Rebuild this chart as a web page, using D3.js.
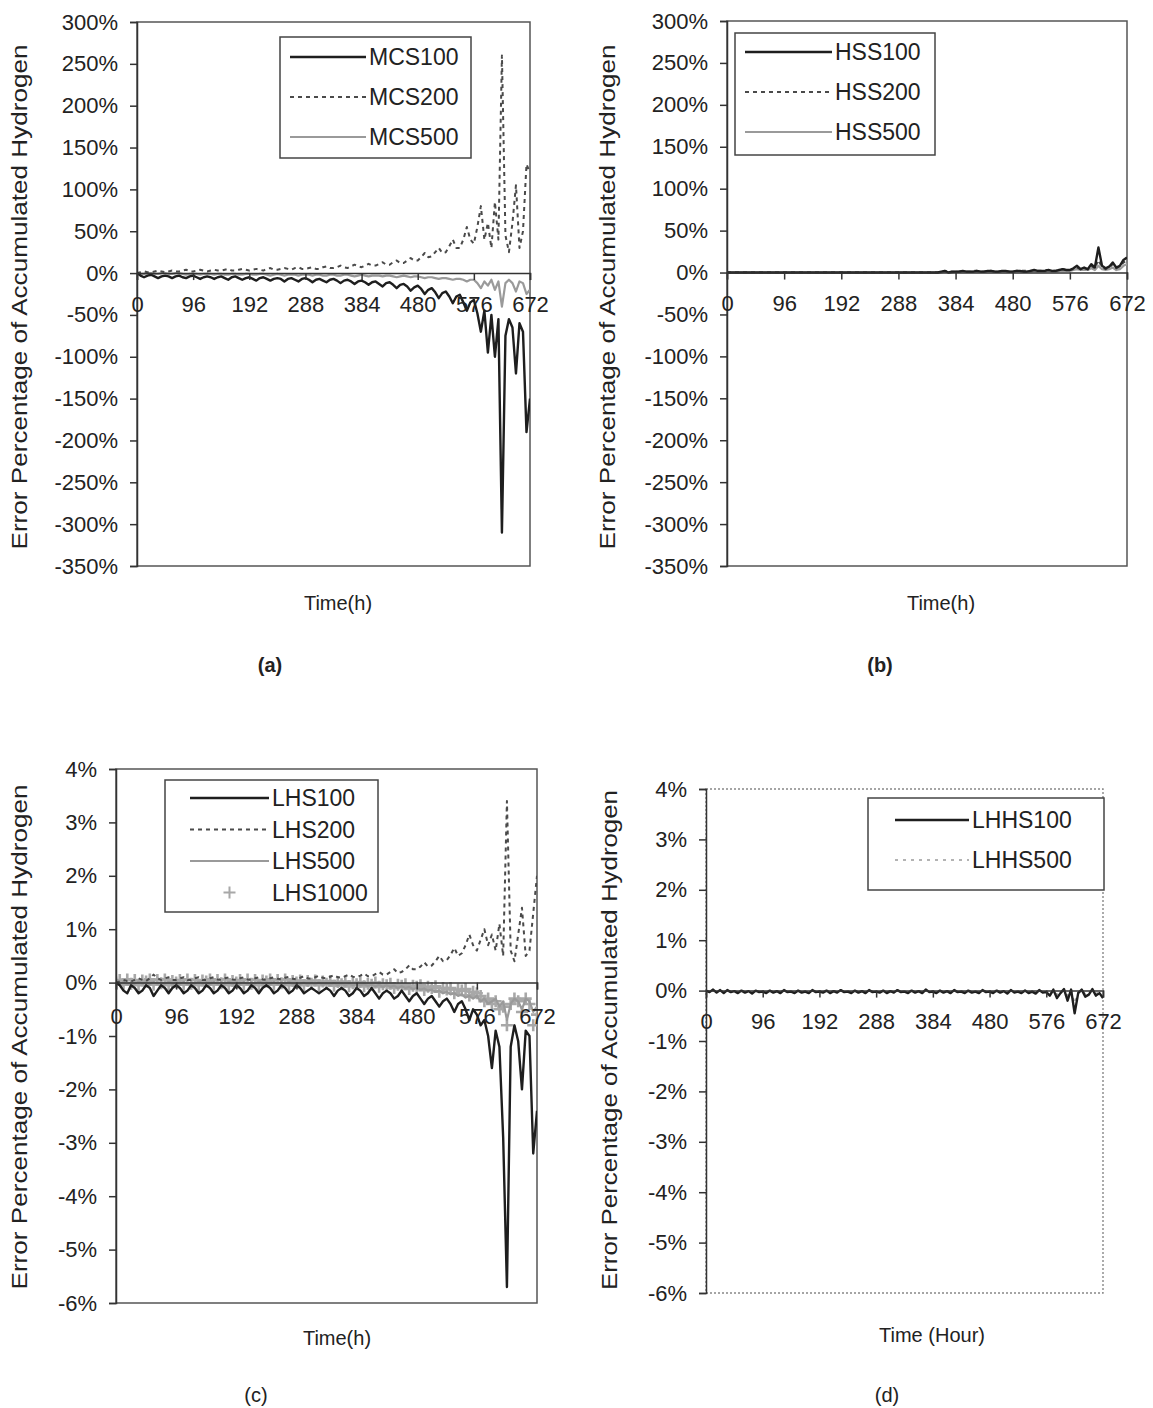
<!DOCTYPE html>
<html><head><meta charset="utf-8">
<script src="https://cdn.jsdelivr.net/npm/d3@7/dist/d3.min.js"></script>
<style>
body{margin:0;background:#fff}
text{font-family:"Liberation Sans",Arial,sans-serif;fill:#222}
</style>
</head><body>
<svg id="chart" width="1153" height="1408"></svg>
<script>
// ---------------- DATA ----------------
const hours = [0,6,12,18,24,30,36,42,48,54,60,66,72,78,84,90,
96,102,108,114,120,126,132,138,144,150,156,162,168,174,180,186,
192,198,204,210,216,222,228,234,240,246,252,258,264,270,276,282,
288,294,300,306,312,318,324,330,336,342,348,354,360,366,372,378,
384,390,396,402,408,414,420,426,432,438,444,450,456,462,468,474,
480,486,492,498,504,510,516,522,528,534,540,546,552,558,564,570,
576,582,588,594,600,606,612,618,624,630,636,642,648,654,660,666,672];
const xTicks = [0,96,192,288,384,480,576,672];
const yTicksAB = [300,250,200,150,100,50,0,-50,-100,-150,-200,-250,-300,-350];
const yTicksCD = [4,3,2,1,0,-1,-2,-3,-4,-5,-6];

// Panel (a) — MCS
const MCS100 = [0,-3,-5,-3,-2,-4,-6,-4,-3,-4,-6,-4,-3,-5,-6,-4,
-3,-5,-7,-5,-4,-5,-7,-5,-4,-6,-8,-5,-4,-6,-8,-6,
-5,-7,-9,-6,-5,-7,-9,-7,-6,-7,-10,-7,-6,-8,-10,-7,
-6,-8,-11,-8,-7,-9,-11,-8,-7,-9,-12,-9,-8,-10,-13,-10,
-9,-11,-14,-11,-10,-13,-16,-12,-11,-14,-18,-14,-13,-16,-21,-17,
-15,-19,-25,-20,-18,-23,-30,-24,-22,-28,-36,-28,-26,-35,-45,-35,
-32,-48,-70,-45,-95,-50,-100,-55,-310,-75,-55,-65,-120,-60,-70,-190,-150];
const MCS200 = [0,1,2,1,1,2,3,2,1,2,3,2,2,3,4,2,
2,3,4,3,2,3,4,3,3,4,5,3,3,4,5,4,
3,4,5,4,3,5,6,4,4,5,6,5,4,6,7,5,
5,6,7,5,5,7,8,6,6,7,9,7,6,8,10,8,
7,9,11,9,9,11,13,10,10,13,15,12,12,15,18,15,
15,19,24,19,20,25,30,24,25,32,40,30,30,40,55,40,
35,55,80,40,60,30,85,40,260,45,25,60,105,30,50,130,120];
const MCS500 = [0,-1,-1,0,0,-1,-1,0,0,-1,-1,0,0,-1,-2,-1,
-1,-1,-2,-1,-1,-1,-2,-1,-1,-2,-2,-1,-1,-2,-2,-1,
-1,-2,-2,-1,-1,-2,-3,-2,-1,-2,-3,-2,-2,-2,-3,-2,
-2,-2,-3,-2,-2,-3,-3,-2,-2,-3,-3,-2,-2,-3,-4,-3,
-2,-3,-4,-3,-3,-3,-4,-3,-3,-4,-5,-4,-3,-4,-5,-4,
-4,-5,-6,-5,-5,-6,-7,-6,-6,-7,-8,-7,-7,-8,-10,-8,
-8,-12,-18,-10,-15,-8,-20,-10,-40,-12,-8,-12,-22,-10,-12,-25,-20];

// Panel (b) — HSS
const HSS100 = [0,0,0,0,0,0,0,0,0,0,0,0,0,0,0,0,
0,0,0,0,0,0,0,0,0,0,0,0,0,0,0,0,
0,0,0,0,0,0,0,0,0,0,0,0,0,0,0,0,
0,0,0,0,0,0,0,0,0,0,0,0,1,2,0,1,
1,1,2,1,1,1,2,1,1,2,2,1,1,2,2,1,
1,2,2,1,1,2,3,2,2,2,3,2,2,3,4,3,
3,5,8,4,6,4,10,6,30,8,5,7,12,6,8,15,18];
const HSS200 = [0,0,0,0,0,0,0,0,0,0,0,0,0,0,0,0,
0,0,0,0,0,0,0,0,0,0,0,0,0,0,0,0,
0,0,0,0,0,0,0,0,0,0,0,0,0,0,0,0,
0,0,0,0,0,0,0,0,0,0,0,0,1,2,1,1,
1,1,2,1,1,2,2,1,1,2,2,1,1,2,2,1,
1,2,2,2,2,2,3,2,2,3,3,2,2,3,4,3,
3,4,6,4,5,4,8,5,15,6,4,6,10,5,7,12,14];
const HSS500 = [0,0,0,0,0,0,0,0,0,0,0,0,0,0,0,0,
0,0,0,0,0,0,0,0,0,0,0,0,0,0,0,0,
0,0,0,0,0,0,0,0,0,0,0,0,0,0,0,0,
0,0,0,0,0,0,0,0,0,0,0,0,0,1,0,0,
1,1,1,1,1,1,1,1,1,1,1,1,1,1,1,1,
1,1,1,1,1,1,2,1,1,1,2,1,1,2,2,2,
2,3,4,3,3,3,5,3,8,4,3,4,6,3,4,8,10];

// Panel (c) — LHS
const LHS100 = [0,-0.05,-0.15,-0.2,-0.05,-0.1,-0.2,-0.15,-0.05,-0.1,-0.25,-0.15,-0.05,-0.1,-0.2,-0.1,
-0.05,-0.1,-0.2,-0.15,-0.05,-0.1,-0.2,-0.15,-0.05,-0.1,-0.2,-0.15,-0.05,-0.1,-0.2,-0.15,
-0.05,-0.1,-0.2,-0.15,-0.05,-0.1,-0.2,-0.1,-0.05,-0.1,-0.2,-0.15,-0.05,-0.1,-0.2,-0.15,
-0.05,-0.1,-0.2,-0.15,-0.1,-0.15,-0.2,-0.15,-0.1,-0.15,-0.25,-0.15,-0.1,-0.15,-0.25,-0.2,
-0.1,-0.15,-0.25,-0.2,-0.1,-0.2,-0.3,-0.2,-0.15,-0.2,-0.3,-0.25,-0.15,-0.25,-0.35,-0.25,
-0.2,-0.3,-0.4,-0.3,-0.25,-0.35,-0.45,-0.35,-0.3,-0.4,-0.55,-0.4,-0.35,-0.5,-0.7,-0.5,
-0.6,-0.8,-0.7,-1.0,-1.6,-0.9,-1.2,-2.9,-5.7,-1.2,-0.8,-1.1,-2.0,-0.9,-1.0,-3.2,-2.4];
const LHS200 = [0,0.02,0.05,0.03,0.02,0.05,0.08,0.05,0.03,0.08,0.15,0.08,0.05,0.08,0.1,0.05,
0.05,0.08,0.1,0.05,0.05,0.08,0.1,0.05,0.05,0.08,0.1,0.06,0.05,0.08,0.1,0.06,
0.05,0.08,0.1,0.06,0.05,0.08,0.1,0.06,0.05,0.08,0.1,0.07,0.06,0.09,0.11,0.07,
0.06,0.09,0.12,0.08,0.07,0.1,0.13,0.09,0.08,0.11,0.14,0.1,0.09,0.12,0.15,0.11,
0.1,0.13,0.17,0.12,0.12,0.16,0.2,0.15,0.15,0.2,0.25,0.18,0.2,0.25,0.32,0.25,
0.25,0.3,0.38,0.3,0.32,0.4,0.5,0.4,0.42,0.52,0.65,0.5,0.55,0.7,0.9,0.7,
0.6,0.8,1.0,0.7,0.9,0.6,1.1,0.5,3.4,0.6,0.4,0.9,1.4,0.5,0.6,1.3,2.0];
const LHS500 = [0,-0.02,0.01,-0.03,0,-0.02,0.02,-0.02,0,-0.03,0.01,-0.02,0,-0.02,0.01,-0.03,
0,-0.02,0.01,-0.03,0,-0.02,0.02,-0.02,0,-0.03,0.01,-0.02,0,-0.02,0.01,-0.03,
0,-0.02,0.01,-0.03,0,-0.02,0.02,-0.02,0,-0.03,0.01,-0.02,0,-0.02,0.01,-0.03,
-0.01,-0.03,0,-0.04,-0.01,-0.03,0,-0.04,-0.02,-0.04,-0.01,-0.05,-0.02,-0.05,-0.02,-0.05,
-0.03,-0.05,-0.03,-0.06,-0.04,-0.07,-0.04,-0.08,-0.05,-0.08,-0.06,-0.1,-0.07,-0.1,-0.08,-0.12,
-0.1,-0.13,-0.11,-0.15,-0.13,-0.17,-0.15,-0.2,-0.17,-0.22,-0.2,-0.25,-0.22,-0.28,-0.25,-0.3,
-0.25,-0.35,-0.3,-0.4,-0.35,-0.3,-0.45,-0.35,-0.7,-0.4,-0.3,-0.35,-0.5,-0.3,-0.35,-0.55,-0.45];
const LHS1000 = [0,0.05,-0.04,0.06,-0.02,0.05,-0.05,0.04,0.02,0.06,-0.04,0.05,-0.01,0.06,-0.05,0.03,
0,0.05,-0.04,0.06,-0.02,0.05,-0.05,0.04,0.02,0.06,-0.04,0.05,-0.01,0.06,-0.05,0.03,
0,0.05,-0.04,0.06,-0.02,0.05,-0.05,0.04,0.02,0.06,-0.04,0.05,-0.01,0.06,-0.05,0.03,
0,0.04,-0.05,0.03,-0.02,0.04,-0.05,0.02,-0.02,0.03,-0.06,0.01,-0.03,0.02,-0.07,-0.01,
-0.03,0.01,-0.07,-0.02,-0.04,0,-0.08,-0.03,-0.05,-0.02,-0.1,-0.04,-0.06,-0.03,-0.12,-0.06,
-0.08,-0.05,-0.14,-0.08,-0.1,-0.07,-0.17,-0.1,-0.13,-0.1,-0.2,-0.13,-0.15,-0.12,-0.24,-0.17,
-0.2,-0.25,-0.35,-0.3,-0.4,-0.35,-0.5,-0.45,-0.8,-0.4,-0.3,-0.35,-0.55,-0.3,-0.4,-0.8,-0.6];

// Panel (d) — LHHS
const LHHS100 = [0,-0.03,0.02,-0.04,0.01,-0.05,0.01,-0.03,-0.01,-0.05,0,-0.04,-0.01,-0.06,0,-0.03,
-0.02,-0.05,0,-0.04,-0.01,-0.05,0.01,-0.03,-0.02,-0.05,0,-0.04,-0.02,-0.05,0.01,-0.03,
-0.02,-0.04,0,-0.05,-0.01,-0.04,0.01,-0.03,-0.02,-0.05,0,-0.04,-0.01,-0.05,0.01,-0.03,
-0.02,-0.04,0,-0.05,-0.01,-0.04,0.01,-0.03,-0.02,-0.05,0,-0.04,-0.01,-0.05,0.02,-0.03,
-0.02,-0.05,0,-0.04,-0.01,-0.05,0.01,-0.03,-0.02,-0.05,0,-0.04,-0.02,-0.05,0.01,-0.03,
-0.02,-0.05,0,-0.04,-0.01,-0.06,0.01,-0.04,-0.02,-0.05,0,-0.05,-0.02,-0.06,0.01,-0.04,
-0.03,-0.1,0.02,-0.15,-0.05,0.03,-0.2,0.02,-0.45,-0.05,0.02,-0.12,-0.08,0.03,-0.1,-0.05,-0.15];
const LHHS500 = [0,-0.02,0.01,-0.03,0,-0.03,0.01,-0.02,-0.01,-0.03,0,-0.03,-0.01,-0.04,0,-0.02,
-0.01,-0.03,0,-0.03,-0.01,-0.03,0.01,-0.02,-0.01,-0.03,0,-0.03,-0.01,-0.03,0,-0.02,
-0.01,-0.03,0,-0.03,-0.01,-0.03,0.01,-0.02,-0.01,-0.03,0,-0.03,-0.01,-0.03,0,-0.02,
-0.01,-0.03,0,-0.03,-0.01,-0.03,0.01,-0.02,-0.01,-0.03,0,-0.03,-0.01,-0.03,0,-0.02,
-0.01,-0.03,0,-0.03,-0.01,-0.03,0.01,-0.02,-0.01,-0.03,0,-0.03,-0.01,-0.03,0,-0.02,
-0.01,-0.03,0,-0.03,-0.01,-0.04,0,-0.03,-0.01,-0.04,0,-0.03,-0.02,-0.04,0,-0.03,
-0.02,-0.06,0.01,-0.08,-0.03,0.02,-0.1,0.01,-0.25,-0.03,0.01,-0.07,-0.05,0.02,-0.06,-0.03,-0.1];

const yTitle = "Error Percentage of Accumulated Hydrogen";

// ---------------- STYLES ----------------
const ST = {
  black:  {stroke:"#1e1e1e", width:2.4, dash:null},
  dashed: {stroke:"#4a4a4a", width:2, dash:"4,4"},
  grey:   {stroke:"#9a9a9a", width:2.2, dash:null},
  dotted: {stroke:"#9a9a9a", width:1.6, dash:"3,5"}
};
const FONT = '"Liberation Sans",Arial,sans-serif';

const svg = d3.select("#chart");
let clipId = 0;

function panel(cfg){
  const x = d3.scaleLinear().domain([0,672]).range([cfg.left, cfg.right]);
  const y = d3.scaleLinear().domain(cfg.yDomain).range([cfg.bottom, cfg.top]);
  const g = svg.append("g");
  const id = "clip" + (clipId++);
  g.append("clipPath").attr("id", id).append("rect")
    .attr("x", cfg.left).attr("y", cfg.top)
    .attr("width", cfg.right - cfg.left).attr("height", cfg.bottom - cfg.top);

  // frame
  g.append("rect").attr("x", cfg.left).attr("y", cfg.top)
    .attr("width", cfg.right - cfg.left).attr("height", cfg.bottom - cfg.top)
    .attr("fill", "none").attr("stroke", cfg.frameDotted ? "#888" : "#555")
    .attr("stroke-width", cfg.frameDotted ? 1.4 : 1.5)
    .attr("stroke-dasharray", cfg.frameDotted ? "2,2" : null);

  // series
  const data = g.append("g").attr("clip-path", `url(#${id})`);
  cfg.series.forEach(s => {
    if (s.marker) {
      data.append("g").selectAll("path").data(s.values).join("path")
        .attr("d", "M-6,0H6M0,-6V6")
        .attr("transform", (d,i) => `translate(${x(hours[i])},${y(d)})`)
        .attr("stroke", "#a8a8a8").attr("stroke-width", 2.6).attr("fill", "none");
    } else {
      const st = ST[s.style];
      const line = d3.line().x((d,i) => x(hours[i])).y(d => y(d));
      data.append("path").datum(s.values).attr("d", line)
        .attr("fill", "none").attr("stroke", st.stroke)
        .attr("stroke-width", st.width).attr("stroke-dasharray", st.dash)
        .attr("stroke-linejoin", "round");
    }
  });

  // y axis
  const ya = g.append("g").attr("transform", `translate(${cfg.left},0)`)
    .call(d3.axisLeft(y).tickValues(cfg.yTicks).tickFormat(d => d + "%").tickSize(7).tickPadding(12));
  ya.selectAll("path,line").attr("stroke", "#333").attr("stroke-width", 1.5);
  ya.selectAll("text").attr("font-size", cfg.tickFont).attr("fill", "#222").attr("font-family", FONT);

  // x axis at zero
  const xa = g.append("g").attr("transform", `translate(0,${y(0)})`)
    .call(d3.axisBottom(x).tickValues(xTicks).tickFormat(d3.format("d")).tickSize(7).tickPadding(cfg.xPad));
  xa.select(".domain").attr("stroke", "#333").attr("stroke-width", 1.5);
  xa.selectAll("line").attr("stroke", "#333").attr("stroke-width", 1.5);
  xa.selectAll("text").attr("font-size", cfg.tickFont).attr("fill", "#222").attr("font-family", FONT);

  // legend
  const L = cfg.legend;
  g.append("rect").attr("x", L.x).attr("y", L.y).attr("width", L.w).attr("height", L.h)
    .attr("fill", "#fff").attr("stroke", "#444").attr("stroke-width", 1.5);
  L.rows.forEach((r, i) => {
    const yy = L.y + L.first + i * L.step;
    if (r.marker) {
      g.append("path").attr("d", "M-6,0H6M0,-6V6")
        .attr("transform", `translate(${(L.lx1 + L.lx2)/2},${yy})`)
        .attr("stroke", "#a8a8a8").attr("stroke-width", 2);
    } else {
      const st = ST[r.style];
      g.append("line").attr("x1", L.lx1).attr("x2", L.lx2).attr("y1", yy).attr("y2", yy)
        .attr("stroke", st.stroke).attr("stroke-width", st.width).attr("stroke-dasharray", st.dash);
    }
    g.append("text").attr("x", L.lx2 + 3).attr("y", yy).attr("dy", "0.35em")
      .attr("font-size", L.font).text(r.name);
  });

  // titles
  g.append("text").attr("transform", `translate(${cfg.yTitleX},${cfg.yTitleY}) rotate(-90)`)
    .attr("text-anchor", "middle").attr("font-size", 22)
    .attr("textLength", cfg.yTitleLen).attr("lengthAdjust", "spacingAndGlyphs").text(yTitle);
  g.append("text").attr("x", cfg.xTitleX).attr("y", cfg.xTitleY).attr("text-anchor", "middle")
    .attr("dy", "0.35em").attr("font-size", 20).text(cfg.xTitle);
  g.append("text").attr("x", cfg.letterX).attr("y", cfg.letterY).attr("text-anchor", "middle")
    .attr("dy", "0.35em").attr("font-size", 20).attr("font-weight", cfg.letterBold ? "bold" : "normal")
    .text(cfg.letter);
}

panel({left:137, right:530, top:22, bottom:566, yDomain:[-350,300], yTicks:yTicksAB,
  tickFont:22, xPad:16,
  series:[{values:MCS500, style:"grey"},{values:MCS200, style:"dashed"},{values:MCS100, style:"black"}],
  legend:{x:280, y:37, w:191, h:121, first:20, step:40, lx1:290, lx2:366, font:23,
    rows:[{name:"MCS100", style:"black"},{name:"MCS200", style:"dashed"},{name:"MCS500", style:"grey"}]},
  yTitleX:27, yTitleY:297, yTitleLen:505, xTitle:"Time(h)", xTitleX:338, xTitleY:603,
  letter:"(a)", letterX:270, letterY:665, letterBold:true});

panel({left:727, right:1127, top:21, bottom:566, yDomain:[-350,300], yTicks:yTicksAB,
  tickFont:22, xPad:16,
  series:[{values:HSS500, style:"grey"},{values:HSS200, style:"dashed"},{values:HSS100, style:"black"}],
  legend:{x:735, y:33, w:200, h:122, first:19, step:40, lx1:745, lx2:832, font:23,
    rows:[{name:"HSS100", style:"black"},{name:"HSS200", style:"dashed"},{name:"HSS500", style:"grey"}]},
  yTitleX:615, yTitleY:297, yTitleLen:505, xTitle:"Time(h)", xTitleX:941, xTitleY:603,
  letter:"(b)", letterX:880, letterY:665, letterBold:true});

panel({left:116, right:537, top:769, bottom:1303, yDomain:[-6,4], yTicks:yTicksCD,
  tickFont:22, xPad:19,
  series:[{values:LHS1000, marker:true},{values:LHS500, style:"grey"},{values:LHS200, style:"dashed"},{values:LHS100, style:"black"}],
  legend:{x:165, y:780, w:213, h:132, first:18, step:31.5, lx1:190, lx2:269, font:23,
    rows:[{name:"LHS100", style:"black"},{name:"LHS200", style:"dashed"},{name:"LHS500", style:"grey"},{name:"LHS1000", marker:true}]},
  yTitleX:27, yTitleY:1037, yTitleLen:505, xTitle:"Time(h)", xTitleX:337, xTitleY:1338,
  letter:"(c)", letterX:256, letterY:1395, letterBold:false});

panel({left:706, right:1103, top:789, bottom:1293, yDomain:[-6,4], yTicks:yTicksCD, frameDotted:true,
  tickFont:22, xPad:16,
  series:[{values:LHHS500, style:"dotted"},{values:LHHS100, style:"black"}],
  legend:{x:868, y:798, w:236, h:92, first:22, step:40, lx1:895, lx2:969, font:23,
    rows:[{name:"LHHS100", style:"black"},{name:"LHHS500", style:"dotted"}]},
  yTitleX:617, yTitleY:1040, yTitleLen:500, xTitle:"Time (Hour)", xTitleX:932, xTitleY:1335,
  letter:"(d)", letterX:887, letterY:1395, letterBold:false});
</script>
</body></html>
